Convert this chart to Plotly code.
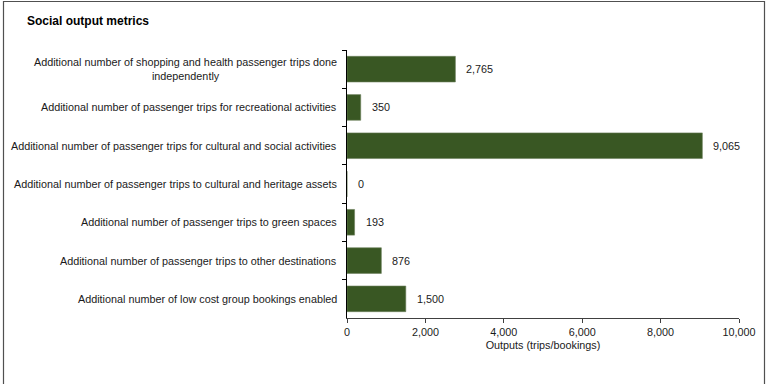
import plotly.graph_objects as go

# Social output metrics (trips / bookings)
categories = [
    "Additional number of shopping and health passenger trips done<br>independently",
    "Additional number of passenger trips for recreational activities",
    "Additional number of passenger trips for cultural and social activities",
    "Additional number of passenger trips to cultural and heritage assets",
    "Additional number of passenger trips to green spaces",
    "Additional number of passenger trips to other destinations",
    "Additional number of low cost group bookings enabled",
]
values = [2765, 350, 9065, 0, 193, 876, 1500]
x_ticks = [0, 2000, 4000, 6000, 8000, 10000]
x_tick_labels = ["0", "2,000", "4,000", "6,000", "8,000", "10,000"]

W, H = 767, 384
L, R, T, B = 347, 28, 50, 66
PW, PH = W - L - R, H - T - B


def px_x(px):
    return (px - L) / PW


def px_y(py):
    return (H - B - py) / PH


BAR = "#395723"
FONT = "Liberation Sans, Arial, sans-serif"
FS = 10.8

fig = go.Figure()
fig.add_trace(go.Bar(
    x=values,
    y=categories,
    orientation="h",
    marker=dict(color=BAR, line=dict(color="#6b7f5c", width=0.6)),
    hoverinfo="x+y",
))

annotations = []
# value labels next to each bar
for c, v in zip(categories, values):
    annotations.append(dict(
        x=v, y=c, xref="x", yref="y", text=f"{v:,}", showarrow=False,
        xanchor="left", yanchor="middle", xshift=9,
        font=dict(family=FONT, size=FS, color="#1a1a1a"),
    ))
# category labels, centred multi-line
for c in categories:
    annotations.append(dict(
        x=0, y=c, xref="paper", yref="y", text=c, showarrow=False,
        xanchor="right", yanchor="middle", xshift=-8, align="center",
        font=dict(family=FONT, size=FS, color="#1a1a1a"),
    ))
annotations.append(dict(
    x=px_x(25), y=px_y(21), xref="paper", yref="paper",
    text="<b>Social output metrics</b>", showarrow=False,
    xanchor="left", yanchor="middle",
    font=dict(family=FONT, size=12, color="#000000"),
))

fig.update_layout(
    width=W, height=H,
    margin=dict(l=L, r=R, t=T, b=B, pad=0),
    paper_bgcolor="white", plot_bgcolor="white",
    showlegend=False,
    bargap=0.33,
    font=dict(family=FONT, size=FS, color="#1a1a1a"),
    annotations=annotations,
    shapes=[dict(
        type="rect", xref="paper", yref="paper",
        x0=px_x(3.5), x1=px_x(764.5), y0=px_y(395), y1=px_y(1.5),
        line=dict(color="#505050", width=1.2), fillcolor="rgba(0,0,0,0)",
        layer="below",
    )],
    xaxis=dict(
        range=[0, 10000], tickvals=x_ticks, ticktext=x_tick_labels,
        showgrid=False, zeroline=False,
        showline=True, linecolor="#404040", linewidth=1,
        ticks="outside", ticklen=4, tickcolor="#404040",
        tickfont=dict(family=FONT, size=FS, color="#1a1a1a"),
        title=dict(text="Outputs (trips/bookings)", standoff=4,
                   font=dict(family=FONT, size=FS, color="#1a1a1a")),
        fixedrange=True,
    ),
    yaxis=dict(
        autorange="reversed", showgrid=False, zeroline=False,
        showline=True, linecolor="#000000", linewidth=1,
        ticks="outside", ticklen=4, tickcolor="#000000",
        tickson="boundaries", showticklabels=False,
        fixedrange=True,
    ),
)

fig.write_html("out.html")
